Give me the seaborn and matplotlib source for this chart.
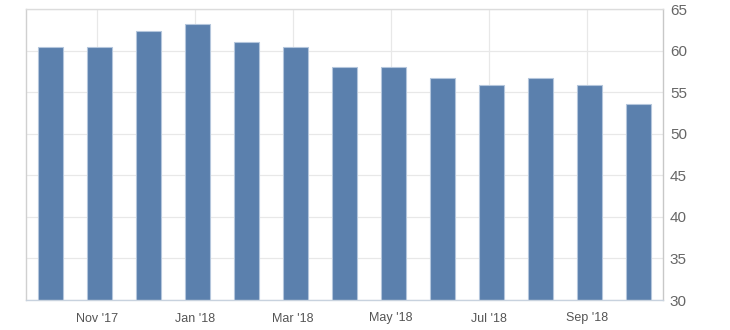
import matplotlib
matplotlib.use("Agg")
import matplotlib.pyplot as plt
import seaborn as sns
import pandas as pd

months = ["Oct '17", "Nov '17", "Dec '17", "Jan '18", "Feb '18", "Mar '18", "Apr '18",
          "May '18", "Jun '18", "Jul '18", "Aug '18", "Sep '18", "Oct '18"]
values = [60.4, 60.4, 62.4, 63.2, 61.0, 60.4, 58.0, 58.0, 56.7, 55.8, 56.7, 55.8, 53.6]
tick_labels = ["Nov '17", "Jan '18", "Mar '18", "May '18", "Jul '18", "Sep '18"]
y_ticks = [30, 35, 40, 45, 50, 55, 60, 65]

df = pd.DataFrame({"month": months, "value": values})

sns.set_theme(style="white")
plt.rcParams['font.family'] = ['Liberation Sans', 'DejaVu Sans']

fig = plt.figure(figsize=(7.3, 3.3), dpi=100)
ax = fig.add_axes([26/730, 30/330, 637/730, 291/330])

sns.barplot(data=df, x="month", y="value", order=months, color="#5b80ad",
            width=0.49, edgecolor="#b4c6dc", linewidth=0.8, saturation=1, ax=ax)

ax.set_xlim(-0.5, len(months) - 0.5)
ax.set_ylim(30, 65)
ax.set_yticks(y_ticks)
ax.yaxis.tick_right()
ax.tick_params(axis="y", length=0, pad=5, labelsize=11, labelcolor="#666666")

pos = [months.index(t) - 0.05 for t in tick_labels]
ax.set_xticks(pos)
ax.set_xticklabels(tick_labels)
ax.tick_params(axis="x", length=0, pad=9, labelsize=9, labelcolor="#555555")

ax.grid(True, color="#e8e8e8", linewidth=0.9)
ax.set_axisbelow(True)
ax.set_xlabel("")
ax.set_ylabel("")

for name, sp in ax.spines.items():
    sp.set_visible(True)
    sp.set_linewidth(1.0)
ax.spines["left"].set_color("#d0d0d0")
ax.spines["top"].set_color("#dcdcdc")
ax.spines["right"].set_color("#c8c8c8")
ax.spines["bottom"].set_color("#c8d2de")

fig.savefig("out.png", dpi=100)
